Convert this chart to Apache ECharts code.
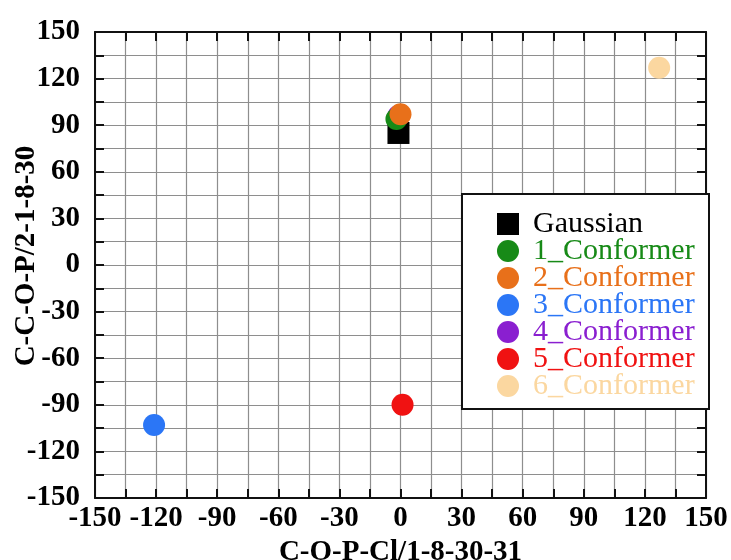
<!DOCTYPE html>
<html><head><meta charset="utf-8">
<script src="https://cdn.jsdelivr.net/npm/echarts@6/dist/echarts.min.js"></script>
<style>html,body{margin:0;padding:0;background:#fff}#c{width:731px;height:560px}</style>
</head><body><div id="c"></div>
<script>
var seriesNames = ['Gaussian','1_Conformer','2_Conformer','3_Conformer','4_Conformer','5_Conformer','6_Conformer'];
var seriesColors = ['#000000','#178a17','#e8701a','#2b76f6','#8a1fd0','#f01212','#fbd7a0'];
var gaussian = [[-1, 85]];
var conf1 = [[-2, 94]];
var conf2 = [[0, 97]];
var conf3 = [[-121, -103]];
var conf4 = [[-1, 96]];
var conf5 = [[1, -90]];
var conf6 = [[127, 127]];
var drawOrder = [0, 4, 1, 2, 3, 5, 6];
var xTicks = [-150,-120,-90,-60,-30,0,30,60,90,120,150];
var yTicks = [-150,-120,-90,-60,-30,0,30,60,90,120,150];

var font = '"Liberation Serif","Times New Roman",serif';
function lbl(v){ return (Math.round(v) % 30 === 0) ? String(v) : ''; }
function axisBase(pos, show){
  return {
    type:'value', min:-150, max:150, interval:15, position:pos,
    axisLine:{show:true, onZero:false, lineStyle:{color:'#111', width:2}},
    axisTick:{show:true, inside:true, length:9, lineStyle:{color:'#111', width:2}},
    splitLine:{show:show, lineStyle:{color:'#8e8e8e', width:1.2}},
    axisLabel:{show:false}
  };
}
var xMain = axisBase('bottom', true);
xMain.axisLabel = {show:true, formatter:lbl, fontFamily:font, fontWeight:'bold', fontSize:29, color:'#000', margin:6};
xMain.name = 'C-O-P-Cl/1-8-30-31'; xMain.nameLocation = 'middle'; xMain.nameGap = 38;
xMain.nameTextStyle = {fontFamily:font, fontWeight:'bold', fontSize:29, color:'#000'};
var xTop = axisBase('top', false);
var yMain = axisBase('left', true);
yMain.axisLabel = {show:true, formatter:lbl, fontFamily:font, fontWeight:'bold', fontSize:29, color:'#000', margin:15};
yMain.name = 'C-C-O-P/2-1-8-30'; yMain.nameLocation = 'middle'; yMain.nameGap = 54;
yMain.nameMoveOverlap = false;
yMain.nameTextStyle = {fontFamily:font, fontWeight:'bold', fontSize:29, color:'#000', padding:[0,0,0,18]};
var yRight = axisBase('right', false);

var dataMap = [gaussian, conf1, conf2, conf3, conf4, conf5, conf6];
var series = [];
for (var k = 0; k < drawOrder.length; k++) {
  var i = drawOrder[k];
  series.push({
    name: seriesNames[i], type:'scatter', xAxisIndex:0, yAxisIndex:0,
    symbol: i === 0 ? 'rect' : 'circle', symbolSize: 22,
    itemStyle:{color: seriesColors[i], opacity:1},
    data: dataMap[i], z: 2 + k
  });
}
var legendData = seriesNames.map(function(n, i){
  return {name:n, icon: i === 0 ? 'rect' : 'circle', textStyle:{color: seriesColors[i]}};
});

var chart = echarts.init(document.getElementById('c'), null, {renderer:'canvas'});
chart.setOption({
  animation:false,
  backgroundColor:'#fff',
  grid:{left:95, right:25, top:32, bottom:62, outerBoundsMode:'none', containLabel:false},
  xAxis:[xMain, xTop],
  yAxis:[yMain, yRight],
  graphic:[{type:'rect', left:461, top:193, shape:{width:247, height:215}, style:{fill:'#fff', stroke:'#111', lineWidth:2}, z:50}],
  legend:{
    orient:'vertical', left:492, top:204, itemWidth:22, itemHeight:22, itemGap:-3, z:60,
    data: legendData,
    textStyle:{fontFamily:font, fontSize:30, padding:[0,0,0,9]}
  },
  series: series
});
</script></body></html>
